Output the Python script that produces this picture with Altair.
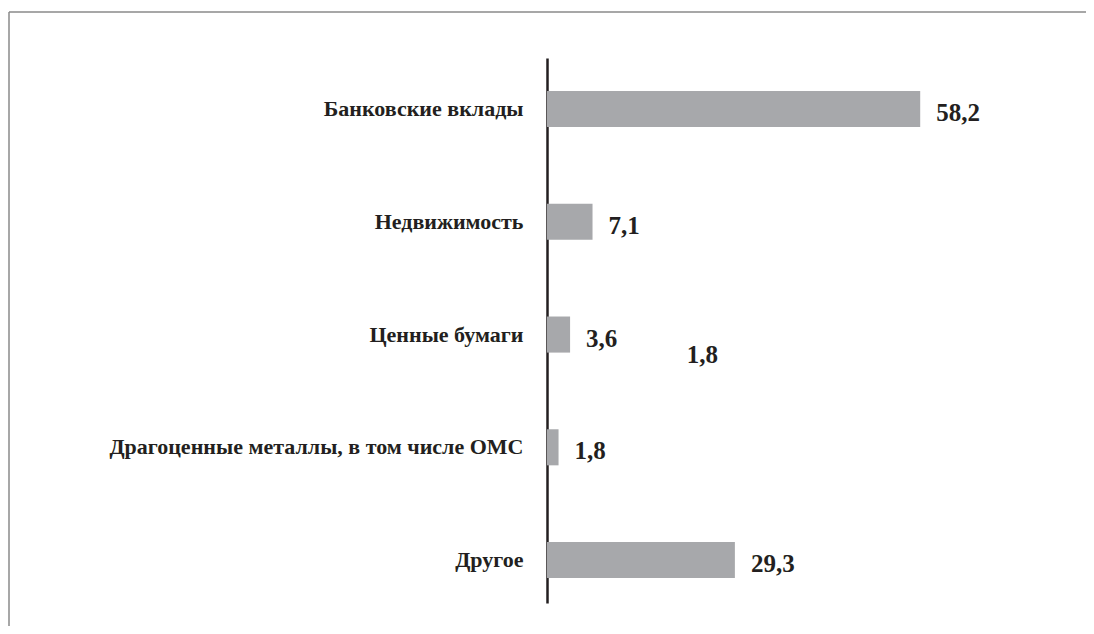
import altair as alt
import pandas as pd

categories = ["Банковские вклады", "Недвижимость", "Ценные бумаги",
              "Драгоценные металлы, в том числе ОМС", "Другое"]
values = [58.2, 7.1, 3.6, 1.8, 29.3]
value_labels = ["58,2", "7,1", "3,6", "1,8", "29,3"]

# stray label present in the original picture
stray_text = ["1,8"]
stray_x = [21.8]
stray_cat = ["Ценные бумаги"]

df = pd.DataFrame({"cat": categories, "val": values, "lab": value_labels})
df_stray = pd.DataFrame({"cat": stray_cat, "val": stray_x, "lab": stray_text})

FONT = "Liberation Serif"

y_enc = alt.Y("cat:N", sort=categories, title=None,
              scale=alt.Scale(paddingInner=0.68, paddingOuter=0.257, align=0.57),
              axis=alt.Axis(domain=True, domainColor="#231f20", domainWidth=2.5,
                            ticks=False, grid=False, labelPadding=24,
                            labelFont=FONT, labelFontWeight="bold", labelFontSize=22,
                            labelColor="#231f20", labelLimit=700))
x_enc = alt.X("val:Q", title=None, scale=alt.Scale(domain=[0, 80], nice=False),
              axis=None)

bars = alt.Chart(df).mark_bar(color="#a7a8ab").encode(x=x_enc, y=y_enc)

labels = alt.Chart(df).mark_text(align="left", baseline="middle", dx=16, dy=4,
                                 font=FONT, fontWeight="bold", fontSize=25,
                                 color="#231f20").encode(
    x="val:Q", y=alt.Y("cat:N", sort=categories), text="lab:N")

stray = alt.Chart(df_stray).mark_text(align="left", baseline="middle", dy=20,
                                      font=FONT, fontWeight="bold", fontSize=25,
                                      color="#231f20").encode(
    x="val:Q", y=alt.Y("cat:N", sort=categories), text="lab:N")

frame_top = alt.Chart(df.head(1)).mark_rule(color="#8a8a8a", strokeWidth=1.5).encode(
    x=alt.value(-538), x2=alt.value(560), y=alt.value(-46))
frame_left = alt.Chart(df.head(1)).mark_rule(color="#8a8a8a", strokeWidth=1.5).encode(
    x=alt.value(-538), y=alt.value(-46), y2=alt.value(580))

chart = alt.layer(frame_top, frame_left, bars, labels, stray).properties(
    width=513, height=545,
    autosize=alt.AutoSizeParams(type="none"),
    padding={"left": 539, "top": 50, "right": 26, "bottom": 23},
).configure(background="white").configure_view(stroke=None)

chart.save("out.html", embed_options={"renderer": "svg", "actions": False})
